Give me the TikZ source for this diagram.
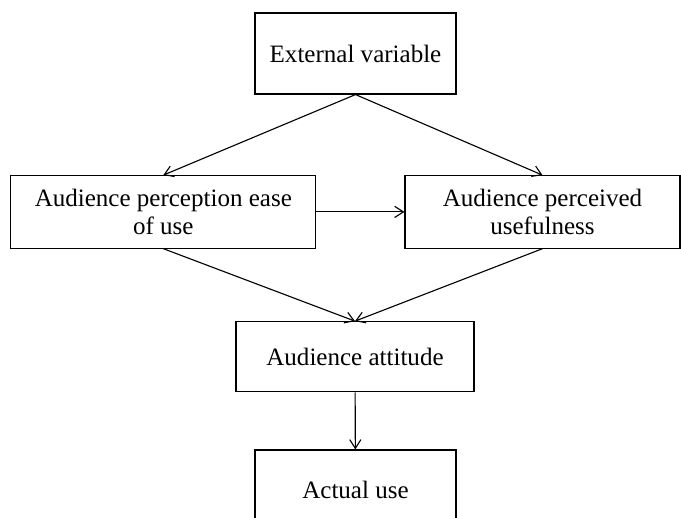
\documentclass[tikz,border=0pt]{standalone}
\usepackage{fontspec}
\setmainfont{Liberation Serif}
\usepackage{tikz}
\usetikzlibrary{arrows.meta,positioning}
\tikzstyle{block}=[draw,fill=white,rectangle,align=center,inner sep=0pt,font=\fontsize{17.8}{20}\selectfont]

\begin{document}
\begin{tikzpicture}[line width=0.8pt,>={Straight Barb[length=2.2mm,width=2.8mm]}]
\clip (0,0) rectangle (17.025,-12.925);
\draw (8.8875,-1.3375) node [block,minimum width=5.025cm,minimum height=2.025cm] (n1) {External variable};
\draw (4.0825,-5.2975) node [block,minimum width=7.625cm,minimum height=1.81cm] (n2) {Audience perception ease\\of use};
\draw (13.5625,-5.2975) node [block,minimum width=6.875cm,minimum height=1.81cm] (n3) {Audience perceived\\usefulness};
\draw (8.875,-8.9175) node [block,minimum width=5.95cm,minimum height=1.75cm] (n4) {Audience attitude};
\draw (8.8875,-12.25) node [block,minimum width=5.025cm,minimum height=2cm] (n5) {Actual use};
\draw[->] (n1.south) -- (n2.north);
\draw[->] (n1.south) -- (n3.north);
\draw[->] (n2) -- (n3);
\draw[->] (n2.south) -- (n4.north);
\draw[->] (n3.south) -- (n4.north);
\draw[->] (n4) -- (n5);
\end{tikzpicture}
\end{document}
